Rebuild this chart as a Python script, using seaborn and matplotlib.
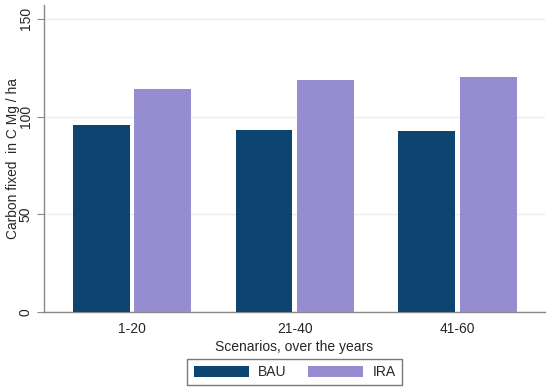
import matplotlib
matplotlib.use("Agg")
import matplotlib.pyplot as plt
import pandas as pd
import seaborn as sns

# Data
periods = ["1-20", "21-40", "41-60"]
bau = [95.6, 92.9, 92.6]
ira = [114.3, 118.7, 120.2]
scenarios = ["BAU", "IRA"]
colors = ["#0d4470", "#968dd0"]

df = pd.DataFrame({
    "period": periods * 2,
    "value": bau + ira,
    "scenario": ["BAU"] * 3 + ["IRA"] * 3,
})

sns.set_style("white")
plt.rcParams["font.family"] = ["Liberation Sans", "DejaVu Sans"]
fs = 10

fig = plt.figure(figsize=(5.5, 3.9), dpi=100)
ax = fig.add_axes([0.08, 0.2, 0.911, 0.787])

sns.barplot(data=df, x="period", y="value", hue="scenario", hue_order=scenarios,
            palette=colors, width=0.756, gap=0.075, saturation=1, ax=ax,
            edgecolor="none", zorder=3)

ax.set_ylim(0, 157)
ax.set_xlim(-0.541, 2.538)
ax.set_yticks([0, 50, 100, 150])
ax.yaxis.grid(True, color="#ececec", linewidth=1, zorder=0)
ax.set_axisbelow(True)
ax.tick_params(axis="y", left=True, length=5, color="#888888", labelsize=fs,
               labelrotation=90, pad=3)
for lab in ax.get_yticklabels():
    lab.set_va("center")
ax.tick_params(axis="x", bottom=False, labelsize=fs, pad=3.5)

for s in ["top", "right"]:
    ax.spines[s].set_visible(False)
for s in ["left", "bottom"]:
    ax.spines[s].set_color("#888888")
    ax.spines[s].set_linewidth(1)

ax.set_xlabel("Scenarios, over the years", fontsize=fs, labelpad=3)
ax.set_ylabel("Carbon fixed  in C Mg / ha", fontsize=9.9, labelpad=-1)

ax.legend(loc="upper center", bbox_to_anchor=(0.5, -0.153), ncol=2, frameon=True,
          fancybox=False, edgecolor="#555555", fontsize=fs, handlelength=3.95,
          handleheight=0.86, columnspacing=1.6, borderpad=0.45, borderaxespad=0,
          handletextpad=0.65, title=None)

fig.savefig("out.png", dpi=100)
